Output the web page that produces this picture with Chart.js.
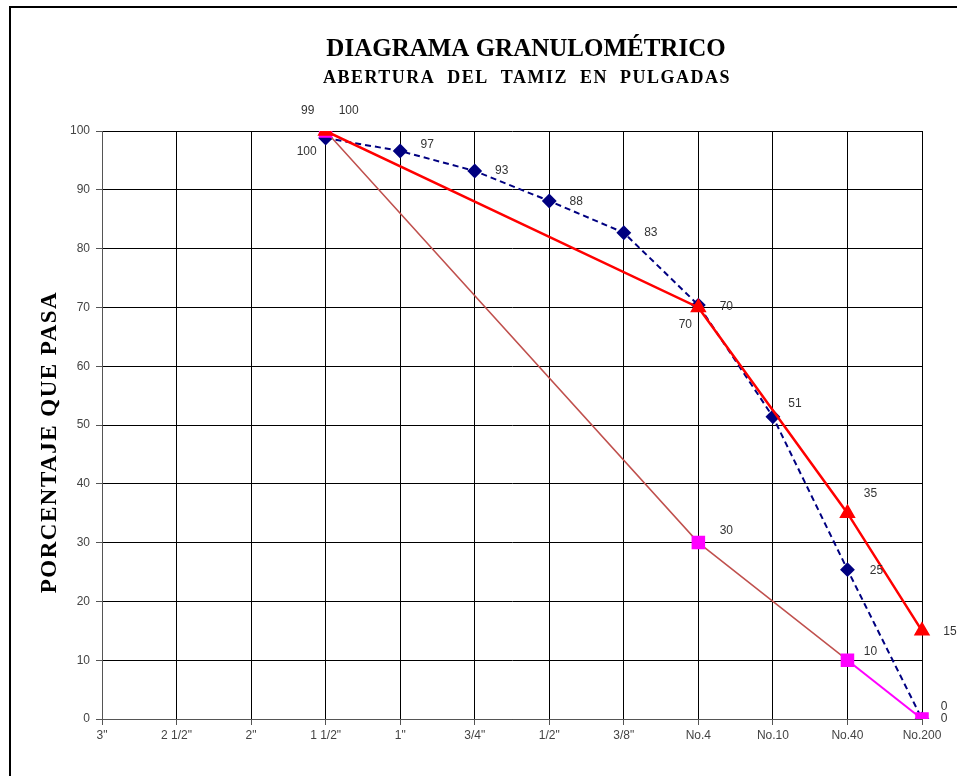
<!DOCTYPE html>
<html>
<head>
<meta charset="utf-8">
<script src="https://cdn.jsdelivr.net/npm/chart.js@4"></script>
<style>
  html, body { margin: 0; padding: 0; background: #fff; }
  #wrap { width: 957px; height: 776px; position: relative; }
</style>
</head>
<body>
<div id="wrap"><canvas id="granChart" width="957" height="776"></canvas></div>
<script>
// tamices (eje X)
const tamices = ['3"', '2 1/2"', '2"', '1 1/2"', '1"', '3/4"', '1/2"', '3/8"', 'No.4', 'No.10', 'No.40', 'No.200'];
// muestra (azul, discontinua)
const muestra = [null, null, null, 98.8, 96.6, 93.2, 88.1, 82.7, 70.4, 51.4, 25.4, 0];
// limite superior (rojo)
const limiteSup = [null, null, null, 100, null, null, null, null, 70, null, 35, 15];
// limite inferior (magenta)
const limiteInf = [null, null, null, 100, null, null, null, null, 30, null, 10, 0];
const yTicks = [0, 10, 20, 30, 40, 50, 60, 70, 80, 90, 100];

const titulo = "DIAGRAMA GRANULOMÉTRICO";
const subtitulo = "ABERTURA  DEL  TAMIZ  EN  PULGADAS";
const tituloY = "PORCENTAJE QUE PASA";

// desplazamiento de etiquetas por punto (px)
const offsets = {
    sup: { 3: [-19, 21], 8: [-13, 17], 10: [23, -20], 11: [28, 1] },
    inf: { 3: [23, -20], 8: [28, -12], 10: [23, -9], 11: [22, 0] },
    mue: { 3: [-18, -27], 4: [27, -6], 5: [27, 0], 6: [27, 1], 7: [27, 0], 8: [28, 2], 9: [22, -13], 10: [29, 1], 11: [22, -12] }
};

function texto(c, str, x, y, font, spacing) {
    c.font = font;
    c.letterSpacing = spacing + "px";
    c.fillText(str, x, y);
    c.letterSpacing = "0px";
}

const marco = {
    id: "marco",
    beforeDraw(chart) {
        const c = chart.ctx;
        c.save();
        c.fillStyle = "#fff";
        c.fillRect(0, 0, chart.width, chart.height);
        c.strokeStyle = "#000";
        c.lineWidth = 2;
        c.beginPath();
        c.moveTo(10, chart.height);
        c.lineTo(10, 7);
        c.lineTo(chart.width, 7);
        c.stroke();
        c.restore();
    },
    afterDraw(chart) {
        const c = chart.ctx;
        c.save();
        c.fillStyle = "#000";
        c.textAlign = "center";
        c.textBaseline = "middle";
        texto(c, titulo, 526, 50, "bold 25px 'Liberation Serif'", 0);
        texto(c, subtitulo, 527, 78, "bold 18px 'Liberation Serif'", 1.5);

        // titulo eje Y
        c.translate(50, 442);
        c.rotate(-Math.PI / 2);
        texto(c, tituloY, 0, 0, "bold 23px 'Liberation Serif'", 1.5);
        c.restore();

        // etiquetas de datos
        c.save();
        c.font = "12px 'Liberation Sans'";
        c.fillStyle = "#333";
        c.textAlign = "center";
        c.textBaseline = "middle";
        chart.data.datasets.forEach((ds, i) => {
            const meta = chart.getDatasetMeta(i);
            const offs = offsets[ds.key];
            meta.data.forEach((pt, j) => {
                const v = ds.data[j];
                if (v === null) return;
                const o = offs[j] || [25, 0];
                c.fillText(String(Math.round(v)), pt.x + o[0], pt.y + o[1]);
            });
        });
        c.restore();
    }
};

new Chart(document.getElementById("granChart"), {
    type: "line",
    data: {
        labels: tamices,
        datasets: [
            {
                key: "sup",
                data: limiteSup,
                borderColor: "#ff0000",
                backgroundColor: "#ff0000",
                borderWidth: 2.5,
                pointStyle: "triangle",
                pointRadius: 7,
                spanGaps: true,
                tension: 0
            },
            {
                key: "inf",
                data: limiteInf,
                borderColor: "#c0504d",
                backgroundColor: "#ff00ff",
                pointBorderColor: "#ff00ff",
                borderWidth: 1.5,
                pointStyle: "rect",
                pointRadius: 8.5,
                spanGaps: true,
                tension: 0,
                segment: {
                    borderColor: ctx => ctx.p1DataIndex === tamices.length - 1 ? "#ff00ff" : "#c0504d",
                    borderWidth: ctx => ctx.p1DataIndex === tamices.length - 1 ? 2 : 1.5
                }
            },
            {
                key: "mue",
                data: muestra,
                borderColor: "#000080",
                backgroundColor: "#000080",
                borderWidth: 2,
                borderDash: [6, 4],
                pointStyle: "rectRot",
                pointRadius: 6,
                spanGaps: true,
                tension: 0
            }
        ]
    },
    options: {
        responsive: false,
        animation: false,
        layout: { padding: { left: 10, right: 35, top: 131, bottom: 0 } },
        plugins: {
            legend: { display: false },
            tooltip: { enabled: false },
            title: { display: false },
            subtitle: { display: false }
        },
        scales: {
            x: {
                type: "category",
                offset: false,
                afterFit: s => { s.height = 57; },
                grid: { color: "#000", lineWidth: 1, offset: false, tickLength: 6, tickColor: "#555" },
                border: { color: "#555", width: 1 },
                ticks: {
                    color: "#444",
                    font: { family: "'Liberation Sans'", size: 12 },
                    padding: 3,
                    maxRotation: 0,
                    autoSkip: false
                }
            },
            y: {
                min: 0,
                max: 100,
                afterFit: s => { s.width = 92; },
                afterBuildTicks: s => { s.ticks = yTicks.map(v => ({ value: v })); },
                grid: { color: "#000", lineWidth: 1, tickLength: 6, tickColor: "#555" },
                border: { color: "#555", width: 1 },
                ticks: {
                    color: "#444",
                    font: { family: "'Liberation Sans'", size: 12 },
                    padding: 6
                }
            }
        }
    },
    plugins: [marco]
});
</script>
</body>
</html>
